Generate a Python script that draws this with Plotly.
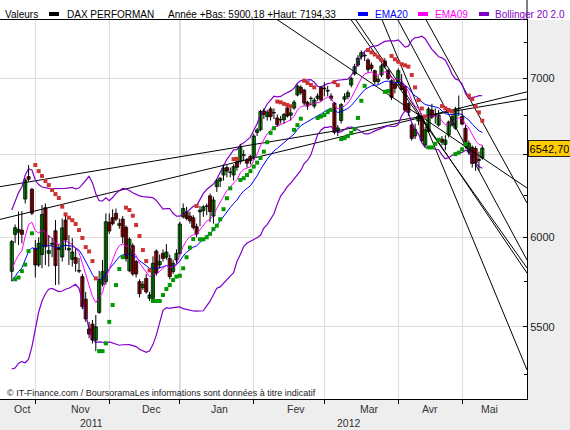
import numpy as np
import plotly.graph_objects as go

# ---------------- data (session 0 = 1 Nov 2011) ----------------
sessions = list(range(-7, 134))
opens = [5805, 6017, 6030, 6042, 6227, 6364, 6286,
         5936, 5841, 5900, 6175, 5907, 5965, 6038, 5935, 5886, 6101,
         5926, 5873, 5883, 5810, 5775, 5650, 5489, 5515, 5430, 5578,
         5733, 5747, 6088, 6115, 6141, 6070, 6107, 6058, 5808, 5951,
         5860, 5747, 5714, 5765, 5655, 5655, 5920, 5841, 5907, 5885,
         5878, 5803, 5869, 5907, 6120, 6150, 6125, 6115, 6062, 6150,
         6157, 6185, 6246, 6125, 6302, 6337, 6374, 6420, 6390, 6374,
         6457, 6457, 6500, 6468, 6489, 6485, 6643, 6660, 6783, 6745,
         6796, 6770, 6737, 6724, 6725, 6802, 6755, 6802, 6889, 6940,
         6922, 6840, 6867, 6815, 6867, 6940, 6930, 6915, 6882, 6835,
         6650, 6720, 6860, 6877, 6956, 7031, 7092, 7150, 7160, 7127,
         7092, 7053, 6980, 7024, 7120, 7053, 6985, 6963, 6971, 6967,
         6945, 6831, 6691, 6620, 6717, 6737, 6562, 6650, 6789, 6760,
         6691, 6600, 6566, 6626, 6691, 6670, 6800, 6746, 6670, 6517,
         6547, 6540, 6470, 6480]
highs = [5985, 6075, 6152, 6155, 6354, 6436, 6295,
         5985, 6000, 6191, 6200, 6013, 5995, 6101, 5960, 6110, 6131,
         6013, 5995, 5936, 5880, 5790, 5690, 5527, 5537, 5564, 5808,
         5869, 6141, 6141, 6165, 6170, 6110, 6125, 6070, 6000, 5965,
         5870, 5760, 5750, 5790, 5690, 5890, 5930, 5900, 5930, 5960,
         5900, 5870, 5930, 6090, 6200, 6180, 6150, 6130, 6080, 6185,
         6190, 6200, 6260, 6240, 6350, 6360, 6440, 6435, 6420, 6440,
         6470, 6570, 6530, 6480, 6500, 6635, 6672, 6790, 6800, 6790,
         6810, 6800, 6760, 6750, 6770, 6820, 6800, 6855, 6960, 6955,
         6930, 6850, 6880, 6870, 6900, 6950, 6975, 6950, 6900, 6840,
         6690, 6835, 6900, 6920, 7010, 7100, 7160, 7194, 7180, 7140,
         7110, 7060, 7020, 7100, 7140, 7065, 6995, 6975, 7070, 7030,
         6950, 6840, 6700, 6700, 6770, 6745, 6680, 6810, 6830, 6800,
         6790, 6620, 6625, 6720, 6760, 6810, 6885, 6790, 6690, 6590,
         6560, 6555, 6520, 6560]
lows = [5750, 5967, 5955, 5965, 6200, 6336, 6130,
        5770, 5830, 5822, 5841, 5832, 5885, 5728, 5730, 5860, 5926,
        5841, 5832, 5803, 5795, 5595, 5527, 5440, 5412, 5372, 5570,
        5720, 5730, 6020, 6070, 6095, 6050, 5965, 5860, 5800, 5780,
        5770, 5660, 5700, 5680, 5640, 5650, 5780, 5820, 5860, 5870,
        5760, 5790, 5850, 5900, 6110, 6100, 6080, 6045, 6000, 6065,
        6120, 6130, 6090, 6080, 6270, 6300, 6340, 6360, 6360, 6340,
        6400, 6440, 6460, 6420, 6440, 6470, 6620, 6650, 6730, 6720,
        6720, 6730, 6680, 6700, 6700, 6740, 6720, 6790, 6880, 6890,
        6820, 6790, 6820, 6800, 6850, 6845, 6880, 6880, 6850, 6630,
        6620, 6700, 6840, 6860, 6940, 7020, 7080, 7130, 7120, 7040,
        7050, 6960, 6960, 7010, 7070, 6990, 6855, 6900, 6950, 6920,
        6780, 6750, 6590, 6600, 6690, 6580, 6550, 6640, 6730, 6700,
        6680, 6560, 6530, 6610, 6680, 6660, 6750, 6690, 6540, 6500,
        6420, 6400, 6400, 6470]
closes = [5975, 6056, 6046, 6017, 6343, 6348, 6142,
          5841, 5965, 6135, 5945, 5923, 5960, 5837, 5930, 6055, 5984,
          5936, 5915, 5850, 5806, 5609, 5543, 5462, 5430, 5500, 5752,
          5803, 6091, 6037, 6080, 6107, 6080, 6003, 5878, 5988, 5790,
          5790, 5680, 5732, 5690, 5673, 5850, 5795, 5860, 5878, 5915,
          5775, 5851, 5907, 6078, 6170, 6111, 6097, 6058, 6019, 6160,
          6180, 6183, 6152, 6221, 6339, 6354, 6416, 6398, 6392, 6426,
          6422, 6552, 6497, 6447, 6463, 6620, 6659, 6780, 6760, 6775,
          6746, 6772, 6693, 6727, 6760, 6750, 6770, 6841, 6949, 6904,
          6835, 6815, 6865, 6855, 6882, 6855, 6935, 6920, 6867, 6643,
          6672, 6825, 6877, 6904, 7001, 7081, 7140, 7178, 7155, 7062,
          7069, 6978, 6995, 7086, 7085, 7001, 6873, 6934, 7053, 6926,
          6789, 6774, 6605, 6663, 6750, 6590, 6659, 6796, 6742, 6755,
          6756, 6580, 6594, 6710, 6745, 6795, 6797, 6697, 6555, 6573,
          6446, 6450, 6465, 6542.70]

# Parabolic SAR dots, one per session (None = no dot);
# sar_up = True when the dot sits below price (green), False when above (red)
sar_values = [None, 5760, 5770, 5806, 5843, 5920, 6023,
              6436, 6398, 6368, 6337, 6312, 6282, 6257, 6233, 6181, 6135,
              6115, 6100, 6078, 6042, 5996, 5943, 5918, 5863, 5765, 5372,
              5372, 5413, 5527, 5618, 5728, 5818, 5885, 6175, 6161, 6127,
              6072, 6007, 5926, 5863, 5810, 5640, 5640, 5640, 5673, 5706,
              5728, 5756, 5775, 5780, 5822, 5885, 5940, 5990, 6185, 5988,
              5988, 6000, 6020, 6048, 6068, 6106, 6166, 6232, 6292, 6473,
              6475, 6343, 6354, 6374, 6398, 6426, 6451, 6480, 6520, 6580,
              6640, 6670, 6845, 6840, 6830, 6822, 6814, 6659, 6690, 6732,
              6985, 6970, 6956, 6940, 6737, 6746, 6756, 6775, 6790, 6975,
              6955, 6600, 6606, 6619, 6640, 6664, 6737, 6850, 6950, 7196,
              7180, 7165, 7150, 7127, 6910, 6915, 7155, 7132, 7115, 7098,
              7090, 7081, 7024, 6940, 6855, 6799, 6747, 6547, 6547, 6570,
              6596, 6815, 6800, 6790, 6780, 6504, 6514, 6535, 6569, 6884,
              6862, 6812, 6773, 6719]
sar_up = [True] * 7 + [False] * 19 + [True] * 8 + [False] * 8 + [True] * 13 + [False] + \
         [True] * 10 + [False] * 2 + [True] * 11 + [False] * 5 + [True] * 3 + [False] * 4 + \
         [True] * 5 + [False] * 2 + [True] * 8 + [False] * 5 + [True] * 2 + [False] * 11 + \
         [True] * 4 + [False] * 4 + [True] * 4 + [False] * 5

# Bollinger values of the first 19 sessions (need pre-window history)
bb_up_early = [6161, 6215, 6265, 6300, 6374, 6412, 6405, 6343, 6315, 6300,
               6295, 6292, 6290, 6290, 6290, 6290, 6292, 6295, 6298]
bb_lo_early = [5280, 5285, 5310, 5318, 5312, 5330, 5396, 5480, 5580, 5640,
               5680, 5705, 5710, 5700, 5692, 5695, 5705, 5710, 5720]
# EMA values just before the first session
ema20_seed = 5725
ema09_seed = 5771

# trend lines drawn on the chart: (session, price) -> (session, price)
trend_s0 = [-10.5, -10.5, 71.3, 94.0, 95.4, 103.2, 107.9, 116.3]
trend_p0 = [6302, 6105, 7423, 7409, 7409, 7409, 7409, 7409]
trend_s1 = [146.3, 146.3, 146.3, 146.3, 146.3, 146.3, 146.3, 146.3]
trend_p1 = [6862, 6910, 6294, 5824, 5795, 5275, 5869, 6203]

month_starts = [0, 22, 43, 65, 86, 108, 127]
month_names = ["Oct", "Nov", "Dec", "Jan", "Fev", "Mar", "Avr", "Mai"]
month_label_pos = [-4.0, 13.4, 34.6, 54.7, 77.6, 99.3, 117.3, 135.2]
year_names = ["2011", "2012"]
year_label_pos = [16.7, 93.4]
year_start = 43
ytick_vals = [5500, 6000, 6500, 7000]
ytick_text = ["5500", "6000", "", "7000"]   # 6500 is hidden under the last-price tag
ytick_minor = [5250, 5750, 6250, 6750, 7250]
last_price_text = "6542,70"

# ---------------- indicators ----------------
c = np.array(closes, dtype=float)
o = np.array(opens, dtype=float)
h = np.array(highs, dtype=float)
l = np.array(lows, dtype=float)
n = len(c)


def ema(vals, period, seed):
    a = 2.0 / (period + 1)
    out, prev = [], seed
    for v in vals:
        prev = prev + a * (v - prev)
        out.append(prev)
    return out


ema20 = ema(c, 20, ema20_seed)
ema09 = ema(c, 9, ema09_seed)

bb_up, bb_lo = list(bb_up_early), list(bb_lo_early)
for i in range(19, n):
    w = c[i - 19:i + 1]
    m, s = w.mean(), w.std()
    bb_up.append(m + 2 * s)
    bb_lo.append(m - 2 * s)

# ---------------- layout helpers ----------------
W, H = 570, 430
PL, PR, PT, PB = 0, 527, 20, 399


def px(x):
    return x / W


def py(y):
    return 1 - y / H


FONT = "Liberation Sans, Arial, sans-serif"
GREEN_BODY = "#00BB00"
RED_BODY = "#D40000"
PURPLE = "#8000C8"

fig = go.Figure()

for i in range(len(trend_s0)):
    fig.add_trace(go.Scatter(x=[trend_s0[i], trend_s1[i]], y=[trend_p0[i], trend_p1[i]],
                             mode="lines", line=dict(color="black", width=1),
                             hoverinfo="skip", showlegend=False))

fig.add_trace(go.Scatter(x=sessions, y=bb_up, mode="lines", line=dict(color=PURPLE, width=1.2),
                         showlegend=False))
fig.add_trace(go.Scatter(x=sessions, y=bb_lo, mode="lines", line=dict(color=PURPLE, width=1.2),
                         showlegend=False))
fig.add_trace(go.Scatter(x=sessions, y=ema20, mode="lines", line=dict(color="#0000FF", width=1),
                         showlegend=False))
fig.add_trace(go.Scatter(x=sessions, y=ema09, mode="lines", line=dict(color="#FF00FF", width=1),
                         showlegend=False))

# candles: wicks + bodies
wx, wy = [], []
for i in range(n):
    wx += [sessions[i], sessions[i], None]
    wy += [l[i], h[i], None]
fig.add_trace(go.Scatter(x=wx, y=wy, mode="lines", line=dict(color="black", width=1),
                         hoverinfo="skip", showlegend=False))
body_base = np.minimum(o, c)
body_len = np.maximum(np.abs(c - o), 0.5)
body_col = [GREEN_BODY if c[i] - o[i] > 6 else (RED_BODY if o[i] - c[i] > 6 else "black")
            for i in range(n)]
fig.add_trace(go.Bar(x=sessions, y=body_len, base=body_base, width=0.95,
                     marker=dict(color=body_col, line=dict(color="black", width=0.8)),
                     hoverinfo="skip", showlegend=False))

sx_up = [sessions[i] for i in range(n) if sar_values[i] is not None and sar_up[i]]
sy_up = [sar_values[i] for i in range(n) if sar_values[i] is not None and sar_up[i]]
sx_dn = [sessions[i] for i in range(n) if sar_values[i] is not None and not sar_up[i]]
sy_dn = [sar_values[i] for i in range(n) if sar_values[i] is not None and not sar_up[i]]
fig.add_trace(go.Scatter(x=sx_up, y=sy_up, mode="markers",
                         marker=dict(symbol="square", size=4, color="#009900", line=dict(width=0)),
                         showlegend=False))
fig.add_trace(go.Scatter(x=sx_dn, y=sy_dn, mode="markers",
                         marker=dict(symbol="square", size=4, color="#CC3333", line=dict(width=0)),
                         showlegend=False))

x_left = -10.506
x_right = 146.3
y_top = np.log10(7000 * np.exp((78.5 - PT) / 1030))
y_bot = np.log10(7000 * np.exp((78.5 - PB) / 1030))

fig.update_layout(
    width=W, height=H, autosize=False,
    margin=dict(l=0, r=0, t=0, b=0),
    paper_bgcolor="#EEEEEE", plot_bgcolor="white",
    font=dict(family=FONT, size=11, color="#222222"),
    showlegend=False, barmode="overlay",
    xaxis=dict(domain=[px(PL), px(PR)], range=[x_left, x_right],
               tickmode="array", tickvals=month_starts, ticktext=[""] * len(month_starts),
               showgrid=True, gridcolor="#DDDDDD", gridwidth=1,
               ticks="outside", ticklen=4, tickcolor="black",
               showline=True, linecolor="black", linewidth=1, mirror=True, zeroline=False),
    yaxis=dict(domain=[py(PB), py(PT)], type="log", range=[y_bot, y_top], side="right",
               tickmode="array", tickvals=ytick_vals, ticktext=ytick_text,
               showgrid=True, gridcolor="#DDDDDD", gridwidth=1,
               ticks="inside", ticklen=4, tickcolor="black",
               minor=dict(tickmode="array", tickvals=ytick_minor, ticks="inside", ticklen=3,
                          tickcolor="black", showgrid=False),
               showline=True, linecolor="black", linewidth=1, zeroline=False,
               tickfont=dict(size=11, color="#222222")),
)

shapes = []
shapes.append(dict(type="rect", xref="paper", yref="paper", x0=0, x1=1, y0=py(PT), y1=1,
                   fillcolor="white", line=dict(width=0), layer="below"))
shapes.append(dict(type="line", xref="x", yref="paper", x0=year_start, x1=year_start,
                   y0=py(PB), y1=py(PT), line=dict(color="#A8A8A8", width=1), layer="below"))
shapes.append(dict(type="line", xref="paper", yref="paper", x0=px(PR), x1=px(PR), y0=py(PT), y1=1,
                   line=dict(color="black", width=1)))
for x0, col in [(49, "black"), (358, "#0000FF"), (418, "#FF00FF"), (479, PURPLE)]:
    shapes.append(dict(type="rect", xref="paper", yref="paper", x0=px(x0), x1=px(x0 + 10),
                       y0=py(16), y1=py(12), fillcolor=col, line=dict(width=0)))
fig.update_layout(shapes=shapes)

ann = []
for txt, x0, col in [("Valeurs", 3, "black"), ("DAX PERFORMAN", 65, "black"),
                     ("Année +Bas: 5900,18 +Haut: 7194,33", 166, "black"),
                     ("EMA20", 373, "#0000FF"), ("EMA09", 433, "#FF00FF"),
                     ("Bollinger 20 2.0", 493, PURPLE)]:
    ann.append(dict(text=txt, xref="paper", yref="paper", x=px(x0), y=py(14), xanchor="left",
                    yanchor="middle", showarrow=False, font=dict(size=10, color=col, family=FONT)))
for name, pos in zip(month_names, month_label_pos):
    ann.append(dict(text=name, xref="x", yref="paper", x=pos, y=py(409), xanchor="center",
                    yanchor="middle", showarrow=False, font=dict(size=10.5, color="#333333", family=FONT)))
for name, pos in zip(year_names, year_label_pos):
    ann.append(dict(text=name, xref="x", yref="paper", x=pos, y=py(423), xanchor="center",
                    yanchor="middle", showarrow=False, font=dict(size=10.5, color="#333333", family=FONT)))
ann.append(dict(text="© IT-Finance.com / BoursoramaLes informations sont données à titre indicatif",
                xref="paper", yref="paper", x=px(5), y=py(393), xanchor="left", yanchor="middle",
                showarrow=False, font=dict(size=9, color="#222222", family=FONT)))
ann.append(dict(text=last_price_text, xref="paper", yref="y", x=px(PR + 0.5), y=np.log10(closes[-1]),
                xanchor="left", yanchor="middle", showarrow=False, width=39, height=13,
                bgcolor="#FFCC00", bordercolor="#222222", borderwidth=1, borderpad=1,
                font=dict(size=11, color="black", family=FONT)))
fig.update_layout(annotations=ann)

fig.write_html("out.html")
